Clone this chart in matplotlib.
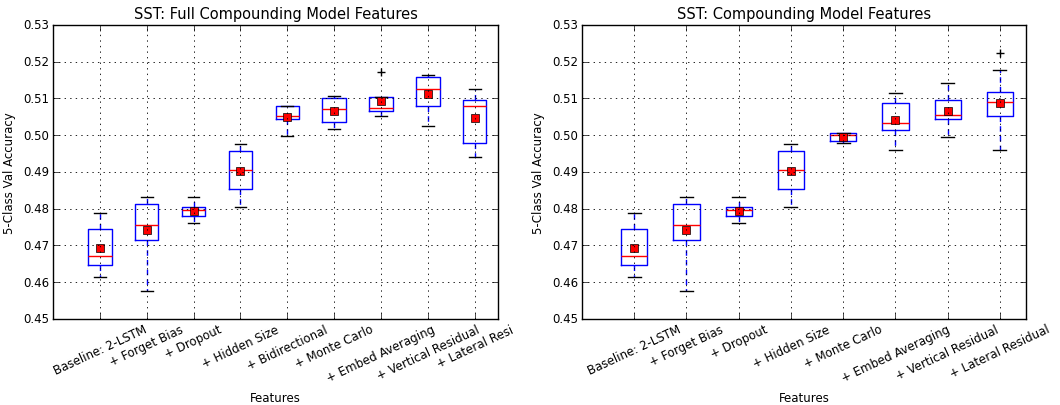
import numpy as np
import matplotlib
matplotlib.use("Agg")
import matplotlib.pyplot as plt

# left panel: full compounding
labels_full = ["Baseline: 2-LSTM", "+ Forget Bias", "+ Dropout", "+ Hidden Size",
               "+ Bidirectional", "+ Monte Carlo", "+ Embed Averaging",
               "+ Vertical Residual", "+ Lateral Resi"]
full_whislo = [0.4613, 0.4577, 0.4760, 0.4805, 0.4998, 0.5016, 0.5053, 0.5025, 0.4942]
full_q1     = [0.4647, 0.4715, 0.4780, 0.4854, 0.5043, 0.5036, 0.5066, 0.5080, 0.4980]
full_med    = [0.4672, 0.4755, 0.4796, 0.4904, 0.5053, 0.5071, 0.5075, 0.5126, 0.5080]
full_q3     = [0.4745, 0.4814, 0.4805, 0.4958, 0.5080, 0.5102, 0.5103, 0.5158, 0.5096]
full_whishi = [0.4787, 0.4833, 0.4833, 0.4977, 0.5080, 0.5108, 0.5103, 0.5163, 0.5126]
full_mean   = [0.4693, 0.4743, 0.4794, 0.4902, 0.5050, 0.5066, 0.5093, 0.5113, 0.5047]
full_fliers = [[], [], [], [], [], [], [0.5172], [], []]

# right panel: compounding without bidirectional
labels_comp = ["Baseline: 2-LSTM", "+ Forget Bias", "+ Dropout", "+ Hidden Size",
               "+ Monte Carlo", "+ Embed Averaging", "+ Vertical Residual",
               "+ Lateral Residual"]
comp_whislo = [0.4613, 0.4577, 0.4760, 0.4805, 0.4978, 0.4959, 0.4995, 0.4959]
comp_q1     = [0.4647, 0.4715, 0.4780, 0.4854, 0.4983, 0.5014, 0.5044, 0.5053]
comp_med    = [0.4672, 0.4755, 0.4796, 0.4904, 0.5001, 0.5032, 0.5054, 0.5091]
comp_q3     = [0.4745, 0.4814, 0.4805, 0.4958, 0.5005, 0.5087, 0.5097, 0.5118]
comp_whishi = [0.4787, 0.4833, 0.4833, 0.4977, 0.5006, 0.5114, 0.5142, 0.5177]
comp_mean   = [0.4693, 0.4743, 0.4794, 0.4902, 0.4995, 0.5042, 0.5066, 0.5089]
comp_fliers = [[], [], [], [], [], [], [], [0.5224]]

yticks = [0.45, 0.46, 0.47, 0.48, 0.49, 0.50, 0.51, 0.52, 0.53]

plt.style.use('classic')
plt.rcParams['font.family'] = ['DejaVu Sans']
plt.rcParams['font.size'] = 8.5

FS = 8.5


def make_stats(lo, q1, med, q3, hi, mean, fl):
    stats = []
    for i in range(len(med)):
        stats.append(dict(whislo=lo[i], q1=q1[i], med=med[i], q3=q3[i],
                          whishi=hi[i], mean=mean[i], fliers=fl[i]))
    return stats


def draw(ax, stats, labels, title):
    n = len(stats)
    pos = np.arange(1, n + 1)
    ax.bxp(stats, positions=pos, widths=0.5, showmeans=True,
           boxprops=dict(color='b', linewidth=1),
           whiskerprops=dict(color='b', linestyle=(0, (4, 3)), linewidth=1),
           capprops=dict(color='k', linewidth=1),
           medianprops=dict(color='r', linewidth=1),
           flierprops=dict(marker='+', markeredgecolor='k', markersize=6),
           meanprops=dict(marker='s', markerfacecolor='r', markeredgecolor='k',
                          markersize=6))
    ax.set_xlim(0, n + 0.5)
    ax.set_ylim(0.45, 0.53)
    ax.set_yticks(yticks)
    ax.set_xticks(pos)
    ax.set_xticklabels(labels, rotation=25, fontsize=FS)
    ax.tick_params(labelsize=FS, pad=2.5)
    ax.grid(True, color='k', linestyle=':', linewidth=0.6)
    ax.set_xlabel("Features", fontsize=FS)
    ax.set_ylabel("5-Class Val Accuracy", fontsize=FS)
    ax.set_title(title, fontsize=10.5)


fig = plt.figure(figsize=(10.6, 4.06), dpi=100, facecolor='white')
ax1 = fig.add_axes([0.050, 0.212, 0.420, 0.724])
ax2 = fig.add_axes([0.549, 0.212, 0.419, 0.724])

draw(ax1, make_stats(full_whislo, full_q1, full_med, full_q3, full_whishi,
                     full_mean, full_fliers),
     labels_full, "SST: Full Compounding Model Features")
draw(ax2, make_stats(comp_whislo, comp_q1, comp_med, comp_q3, comp_whishi,
                     comp_mean, comp_fliers),
     labels_comp, "SST: Compounding Model Features")

fig.savefig("out.png", dpi=100, facecolor='white')
